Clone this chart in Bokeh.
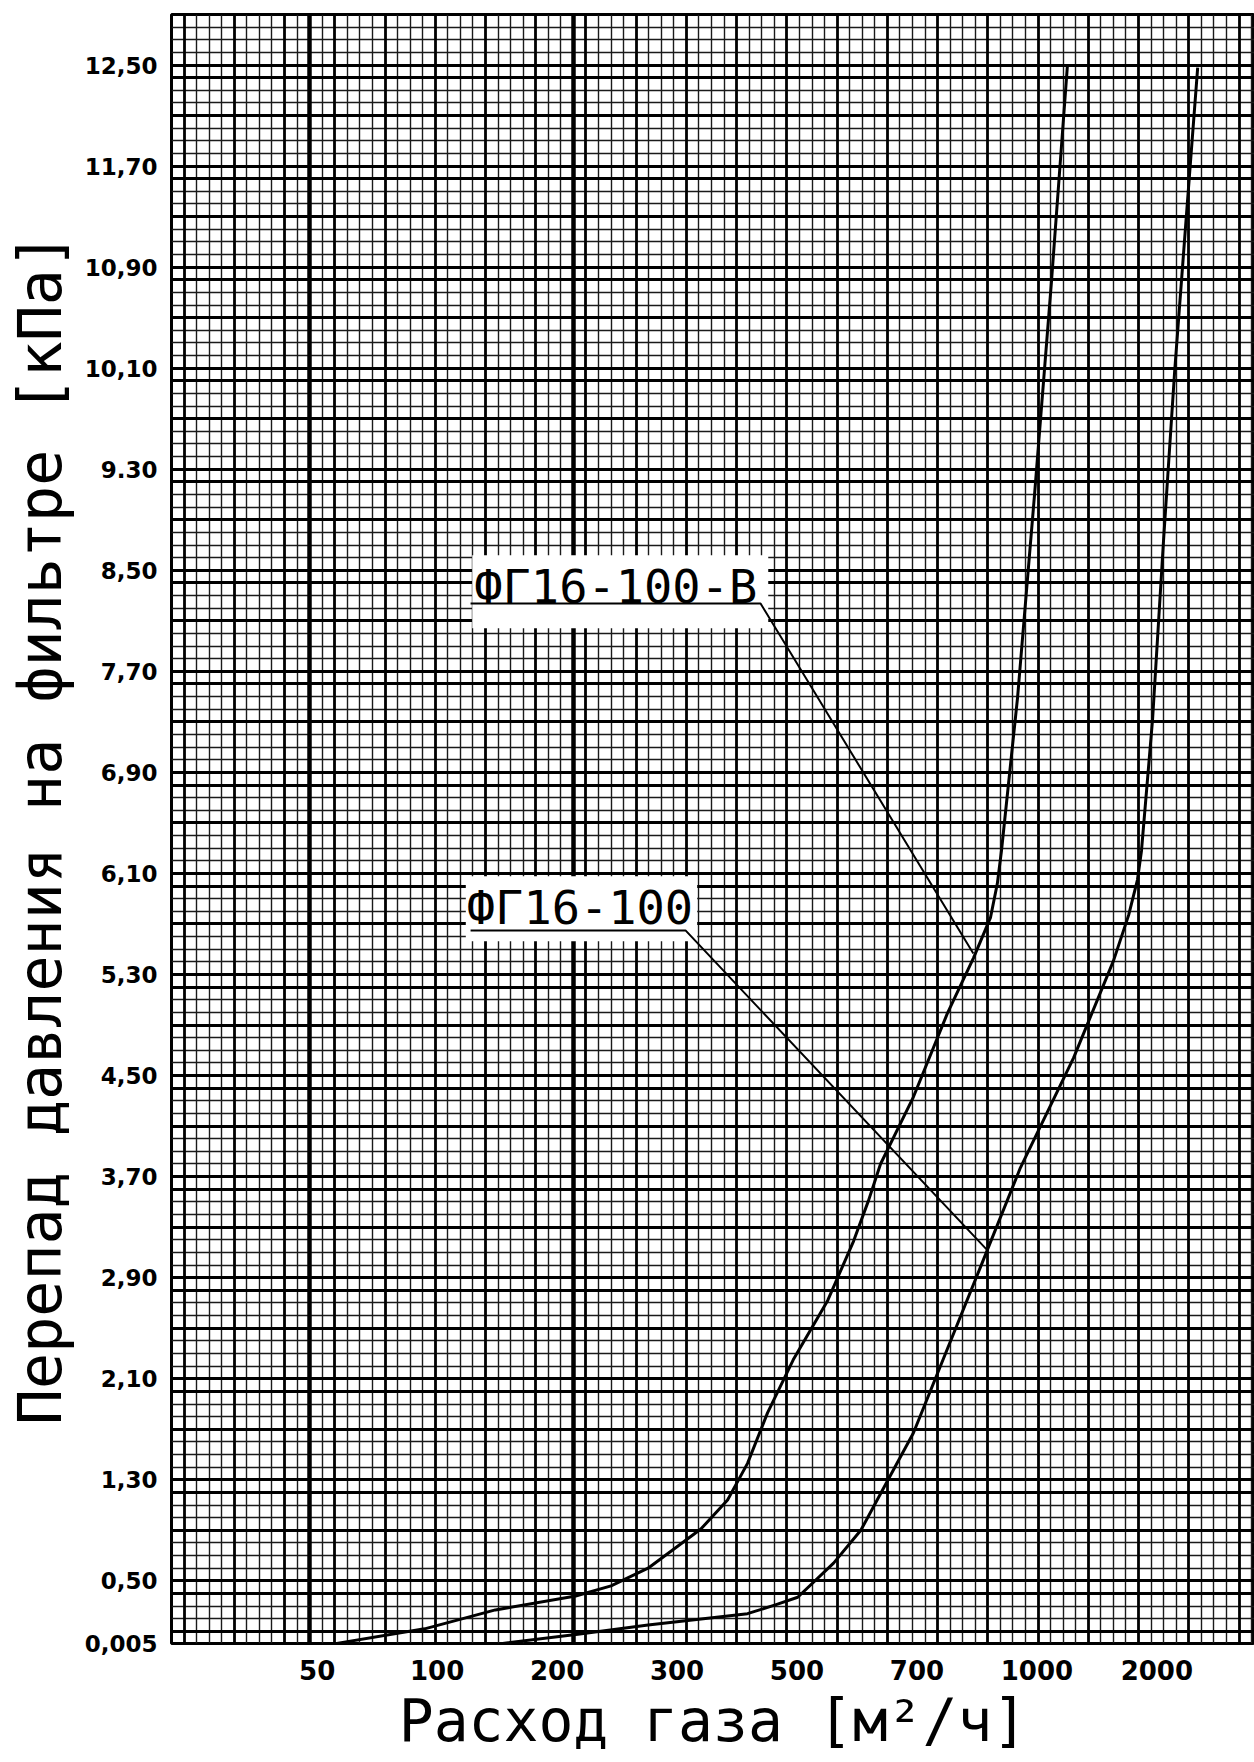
import numpy as np
from bokeh.plotting import figure
from bokeh.models import Range1d, FixedTicker, Grid, Label
from bokeh.embed import file_html
from bokeh.resources import INLINE

# ---- axis ticks (x axis is the chart's own non-uniform flow scale) ----
x_tick_values = [50, 100, 200, 300, 500, 700, 1000, 2000]
x_tick_labels = ["50", "100", "200", "300", "500", "700", "1000", "2000"]
y_tick_values = [0.005, 0.5, 1.3, 2.1, 2.9, 3.7, 4.5, 5.3, 6.1, 6.9, 7.7, 8.5,
                 9.3, 10.1, 10.9, 11.7, 12.5]
y_tick_labels = ["0,005", "0,50", "1,30", "2,10", "2,90", "3,70", "4,50", "5,30",
                 "6,10", "6,90", "7,70", "8,50", "9.30", "10,10", "10,90", "11,70", "12,50"]
x_title = "Расход газа [м²/ч]"
y_title = "Перепад давления на фильтре [кПа]"

# ---- series: gas flow [m3/h] vs pressure drop [kPa] ----
fg_b_name = "ФГ16-100-В"
fg_b_flow = [56, 93, 140, 213, 240, 272, 332, 372, 405, 441, 492, 545, 586, 611,
             632, 693, 766, 828, 871, 889, 900, 944, 993, 1088, 1193]
fg_b_dp = [0.005, 0.12, 0.27, 0.38, 0.46, 0.60, 0.91, 1.14, 1.43, 1.83, 2.25, 2.72,
           3.19, 3.51, 3.80, 4.33, 4.99, 5.43, 5.75, 6.02, 6.28, 7.49, 9.10, 10.79, 12.50]

fg_name = "ФГ16-100"
fg_flow = [146, 216, 272, 405, 456, 501, 554, 598, 632, 693, 845, 863, 952, 1236,
           1557, 1699, 1788, 1830, 1951, 2079, 2216, 2362, 2532]
fg_dp = [0.005, 0.08, 0.15, 0.24, 0.31, 0.37, 0.64, 0.90, 1.19, 1.67, 2.98, 3.12,
         3.77, 4.64, 5.41, 5.77, 6.05, 6.28, 7.32, 8.74, 10.07, 11.23, 12.48]

# ---- callouts: label anchor (flow, dp), underline + leader to the curve ----
fg_b_label_at = (122.5, 8.33)
fg_b_leader_flow = [121.3, 428.1, 827.8]
fg_b_leader_dp = [8.237, 8.237, 5.467]
fg_label_at = (118.0, 5.82)
fg_leader_flow = [121.3, 311.0, 863.4]
fg_leader_dp = [5.649, 5.649, 3.116]


def flow_to_axis(f):
    """Map flow onto the chart's evenly spaced tick scale (log-interpolated)."""
    lf = np.log10(np.atleast_1d(np.asarray(f, dtype=float)))
    lt = np.log10(np.asarray(x_tick_values, dtype=float))
    out = np.interp(lf, lt, np.arange(len(lt), dtype=float))
    lo = lf < lt[0]
    hi = lf > lt[-1]
    out[lo] = (lf[lo] - lt[0]) / (lt[1] - lt[0])
    out[hi] = len(lt) - 1 + (lf[hi] - lt[-1]) / (lt[-1] - lt[-2])
    return out


X_START, X_END = -1.2147, 7.814
Y_START, Y_END = 0.004, 12.9

p = figure(width=1254, height=1762, output_backend="svg", toolbar_location=None,
           x_range=Range1d(X_START, X_END), y_range=Range1d(Y_START, Y_END),
           min_border_left=171, min_border_right=0, min_border_top=14,
           min_border_bottom=119)
p.background_fill_color = "white"
p.border_fill_color = "white"
p.outline_line_color = "black"
p.outline_line_width = 3
p.grid.visible = False

# ---- graph-paper grid ----
x_step = 0.1047
kx = np.arange(1, 95)
gx = X_START + kx * x_step
keep = gx < X_END
gx, kx = gx[keep], kx[keep]
heavy_k = [11, 32]
x_thin = [float(v) for k, v in zip(kx, gx) if k % 4 != 1 and k not in heavy_k]
x_thick = [float(v) for k, v in zip(kx, gx) if k % 4 == 1 and k not in heavy_k]
x_heavy = [float(v) for k, v in zip(kx, gx) if k in heavy_k]

ky = np.arange(-3, 125)
gy = np.round(12.5 - 0.1 * ky, 3)
y_thin = [float(v) for k, v in zip(ky, gy) if k % 8 not in (0, 1, 4)]
y_thick = [float(v) for k, v in zip(ky, gy) if k % 8 in (0, 1, 4)]

for dim, ticks, w, c in [(0, x_thin, 1.4, "#1a1a1a"), (1, y_thin, 1.4, "#1a1a1a"),
                         (0, x_thick, 2.8, "black"), (1, y_thick, 2.8, "black"),
                         (0, x_heavy, 4.5, "black")]:
    g = Grid(dimension=dim, ticker=FixedTicker(ticks=ticks),
             grid_line_color=c, grid_line_width=w)
    p.add_layout(g)

# ---- axes ----
p.xaxis.ticker = FixedTicker(ticks=list(range(len(x_tick_values))))
p.xaxis.major_label_overrides = {i: lab for i, lab in enumerate(x_tick_labels)}
p.yaxis.ticker = FixedTicker(ticks=y_tick_values)
p.yaxis.major_label_overrides = {v: lab for v, lab in zip(y_tick_values, y_tick_labels)}

for ax in (p.xaxis[0], p.yaxis[0]):
    ax.axis_line_color = None
    ax.major_tick_line_color = None
    ax.minor_tick_line_color = None
    ax.major_tick_out = 0
    ax.major_tick_in = 0
    ax.major_label_text_color = "black"
    ax.major_label_text_font = "DejaVu Sans"
    ax.major_label_text_font_style = "bold"
    ax.axis_label_text_font = "DejaVu Sans Mono"
    ax.axis_label_text_font_style = "normal"
    ax.axis_label_text_color = "black"

p.xaxis.major_label_text_font_size = "26px"
p.xaxis.major_label_standoff = 16
p.xaxis.axis_label = x_title
p.xaxis.axis_label_text_font_size = "58px"
p.xaxis.axis_label_standoff = 4

p.yaxis.major_label_text_font_size = "23px"
p.yaxis.major_label_standoff = 14
p.yaxis.axis_label = y_title
p.yaxis.axis_label_text_font_size = "60px"
p.yaxis.axis_label_standoff = 7

# ---- curves ----
p.line(flow_to_axis(fg_b_flow), fg_b_dp, line_color="black", line_width=3,
       line_join="round")
p.line(flow_to_axis(fg_flow), fg_dp, line_color="black", line_width=3,
       line_join="round")

# ---- callouts ----
for name, at, pad in [(fg_b_name, fg_b_label_at, (2, 11, 4, 14)),
                      (fg_name, fg_label_at, (1, 4, 4, 6))]:
    p.add_layout(Label(x=float(flow_to_axis(at[0])[0]), y=at[1], text=name,
                       text_font="DejaVu Sans Mono", text_font_size="47px",
                       text_color="black", text_align="left",
                       text_baseline="alphabetic",
                       background_fill_color="white", padding=pad))

for fl, dp in [(fg_b_leader_flow, fg_b_leader_dp), (fg_leader_flow, fg_leader_dp)]:
    r = p.line(flow_to_axis(fl), dp, line_color="black", line_width=2)
    r.level = "overlay"

with open("out.html", "w", encoding="utf-8") as fh:
    fh.write(file_html(p, INLINE))
